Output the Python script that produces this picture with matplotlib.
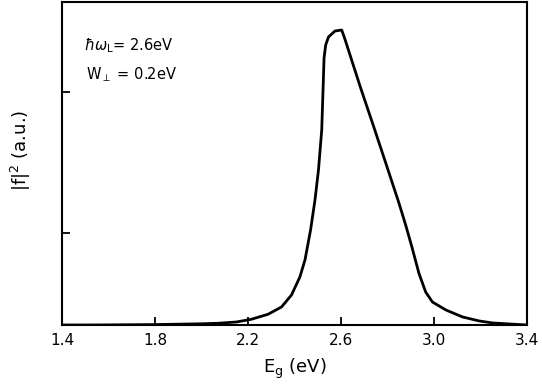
import matplotlib
matplotlib.use("Agg")
import matplotlib.pyplot as plt

# -- Data ----------------------------------------------------------------------
# photon energy gap (eV) and |f|^2 in arbitrary units
energy = [1.40, 1.53, 1.80, 2.00, 2.07, 2.15, 2.214, 2.286, 2.344, 2.387,
          2.423, 2.445, 2.469, 2.488, 2.503, 2.517, 2.524, 2.527, 2.534,
          2.546, 2.574, 2.603, 2.618, 2.683, 2.741, 2.798, 2.849, 2.878,
          2.906, 2.935, 2.964, 2.993, 3.051, 3.123, 3.195, 3.253, 3.34,
          3.40]
intensity = [0.00, 0.00, 0.004, 0.012, 0.017, 0.03, 0.057, 0.107, 0.18, 0.30,
             0.48, 0.65, 0.95, 1.25, 1.55, 1.95, 2.45, 2.67, 2.80,
             2.88, 2.94, 2.95, 2.85, 2.38, 1.98, 1.58, 1.22, 1.00,
             0.77, 0.517, 0.33, 0.23, 0.15, 0.08, 0.04, 0.02, 0.008,
             0.00]

xticks = [1.4, 1.8, 2.2, 2.6, 3.0, 3.4]
xticklabels = ["1.4", "1.8", "2.2", "2.6", "3.0", "3.4"]
yticks = [0.92, 2.33]

# -- Figure --------------------------------------------------------------------
plt.rcParams["font.family"] = ["DejaVu Sans"]

fig = plt.figure(figsize=(5.42, 3.88), dpi=100)
ax = fig.add_axes([0.1144, 0.1624, 0.858, 0.8324])

ax.plot(energy, intensity, color="black", linewidth=2.0,
        solid_joinstyle="round")

ax.set_xlim(1.4, 3.4)
ax.set_ylim(0, 3.23)
ax.set_xticks(xticks)
ax.set_xticklabels(xticklabels, fontsize=11)
ax.set_yticks(yticks)
ax.set_yticklabels([])
ax.tick_params(axis="both", direction="in", length=6, width=1.3, pad=6)
for spine in ax.spines.values():
    spine.set_linewidth(1.5)

ax.set_xlabel(r"E$_\mathregular{g}$ (eV)", fontsize=13, labelpad=6)
ax.set_ylabel(r"$|$f$|^\mathregular{2}$ (a.u.)", fontsize=13)
ax.yaxis.set_label_coords(-0.062, 0.54)

ax.text(0.047, 0.865, r"$\hbar\omega_\mathregular{L}$= 2.6eV",
        transform=ax.transAxes, fontsize=10.5, va="center")
ax.text(0.052, 0.775, r"W$_\perp$ = 0.2eV",
        transform=ax.transAxes, fontsize=10.5, va="center")

fig.savefig("out.png", dpi=100)
